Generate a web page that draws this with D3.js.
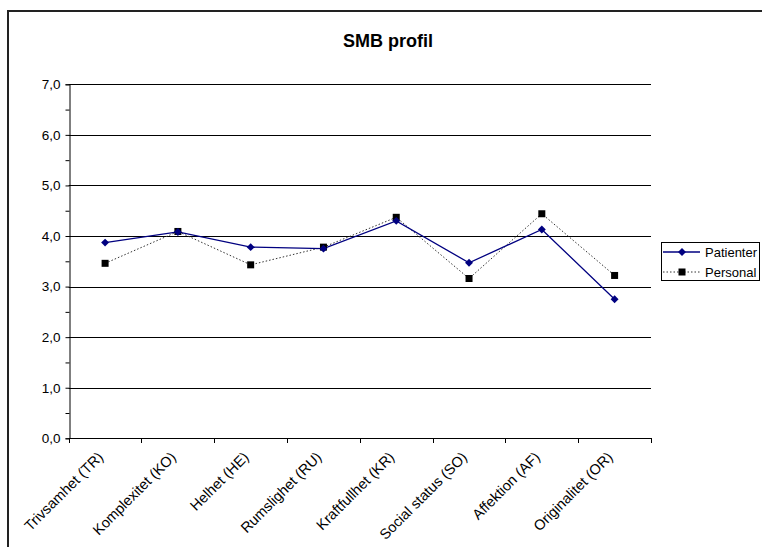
<!DOCTYPE html>
<html><head><meta charset="utf-8">
<script src="https://cdn.jsdelivr.net/npm/d3@7"></script>
<style>html,body{margin:0;padding:0;background:#fff;}svg{display:block;}</style>
</head><body>
<svg id="c" width="762" height="547"></svg>
<script>
const title = "SMB profil";
const categories = ["Trivsamhet (TR)","Komplexitet (KO)","Helhet (HE)","Rumslighet (RU)","Kraftfullhet (KR)","Social status (SO)","Affektion (AF)","Originalitet (OR)"];
const patienter = [3.87, 4.08, 3.78, 3.75, 4.30, 3.47, 4.13, 2.75];
const personal  = [3.46, 4.09, 3.43, 3.78, 4.37, 3.16, 4.44, 3.22];
const yTicks = [0,1,2,3,4,5,6,7];
const seriesNames = ["Patienter","Personal"];

const font = "'Liberation Sans', Arial, sans-serif";
const svg = d3.select("#c");
svg.append("rect").attr("x",8).attr("y",11).attr("width",800).attr("height",600)
  .attr("fill","#fff").attr("stroke","#222").attr("stroke-width",2);

const pLeft = 68.7, pRight = 651, pTop = 84.3, pBottom = 438.3;
const x = d3.scaleBand().domain(categories).range([pLeft,pRight]).padding(0);
const y = d3.scaleLinear().domain([0,7]).range([pBottom,pTop]);
const cx = c => x(c) + x.bandwidth()/2;

svg.append("text").attr("x",388).attr("y",47).attr("text-anchor","middle")
  .attr("font-family",font).attr("font-weight","bold").attr("font-size",18).text(title);

// gridlines
svg.append("g").selectAll("line").data(yTicks.filter(d=>d>0)).join("line")
  .attr("x1",pLeft).attr("x2",pRight).attr("y1",d=>Math.round(y(d))+0.5).attr("y2",d=>Math.round(y(d))+0.5)
  .attr("stroke","#000").attr("stroke-width",1);

// y axis
const yAxis = d3.axisLeft(y).tickValues(d3.range(0,7.01,0.5)).tickSize(4).tickFormat(d => Number.isInteger(d) ? d3.format(".1f")(d).replace(".",",") : "");
const gy = svg.append("g").attr("transform",`translate(${Math.round(pLeft)+0.5},0)`).call(yAxis);
gy.select(".domain").attr("stroke","#000");
gy.selectAll(".tick line").attr("stroke","#000");
gy.selectAll(".tick text").attr("font-family",font).attr("font-size",13.5).attr("fill","#000").attr("x",-9);

// x axis
const gx = svg.append("g");
gx.append("line").attr("x1",pLeft).attr("x2",pRight).attr("y1",Math.round(pBottom)+0.5).attr("y2",Math.round(pBottom)+0.5).attr("stroke","#000");
const bounds = categories.map(c=>x(c)).concat([pRight]);
gx.selectAll("line.t").data(bounds).join("line").attr("class","t")
  .attr("x1",d=>Math.round(d)+0.5).attr("x2",d=>Math.round(d)+0.5)
  .attr("y1",Math.round(pBottom)).attr("y2",Math.round(pBottom)+5).attr("stroke","#000");
gx.selectAll("text").data(categories).join("text")
  .attr("transform",c=>`translate(${cx(c)-1},${458}) rotate(-45)`)
  .attr("text-anchor","end").attr("font-family",font).attr("font-size",14.5).text(c=>c);

// series
const line = d3.line().x((d,i)=>cx(categories[i])).y(d=>y(d));
svg.append("path").datum(personal).attr("d",line).attr("fill","none")
  .attr("stroke","#333").attr("stroke-width",1).attr("stroke-dasharray","1.5,2");
svg.append("path").datum(patienter).attr("d",line).attr("fill","none")
  .attr("stroke","#000080").attr("stroke-width",1.3);
svg.append("g").selectAll("rect").data(personal).join("rect")
  .attr("x",(d,i)=>cx(categories[i])-3.5).attr("y",d=>y(d)-3.5).attr("width",7).attr("height",7).attr("fill","#000");
const diamond = d3.symbol().type(d3.symbolDiamond2).size(40);
svg.append("g").selectAll("path").data(patienter).join("path")
  .attr("d",diamond).attr("transform",(d,i)=>`translate(${cx(categories[i])},${y(d)})`).attr("fill","#000080");

// legend
const lg = svg.append("g");
lg.append("rect").attr("x",661.5).attr("y",242.5).attr("width",98).attr("height",38)
  .attr("fill","#fff").attr("stroke","#000").attr("stroke-width",1);
const rows = [252,272];
lg.append("line").attr("x1",663).attr("x2",700).attr("y1",rows[0]).attr("y2",rows[0]).attr("stroke","#000080").attr("stroke-width",1.3);
lg.append("path").attr("d",diamond).attr("transform",`translate(682,${rows[0]})`).attr("fill","#000080");
lg.append("line").attr("x1",663).attr("x2",700).attr("y1",rows[1]).attr("y2",rows[1]).attr("stroke","#333").attr("stroke-dasharray","1.5,2");
lg.append("rect").attr("x",678.5).attr("y",rows[1]-3.5).attr("width",7).attr("height",7).attr("fill","#000");
lg.selectAll("text").data(seriesNames).join("text").attr("x",705).attr("y",(d,i)=>rows[i]).attr("dy","0.35em")
  .attr("font-family",font).attr("font-size",13).text(d=>d);
</script>
</body></html>
